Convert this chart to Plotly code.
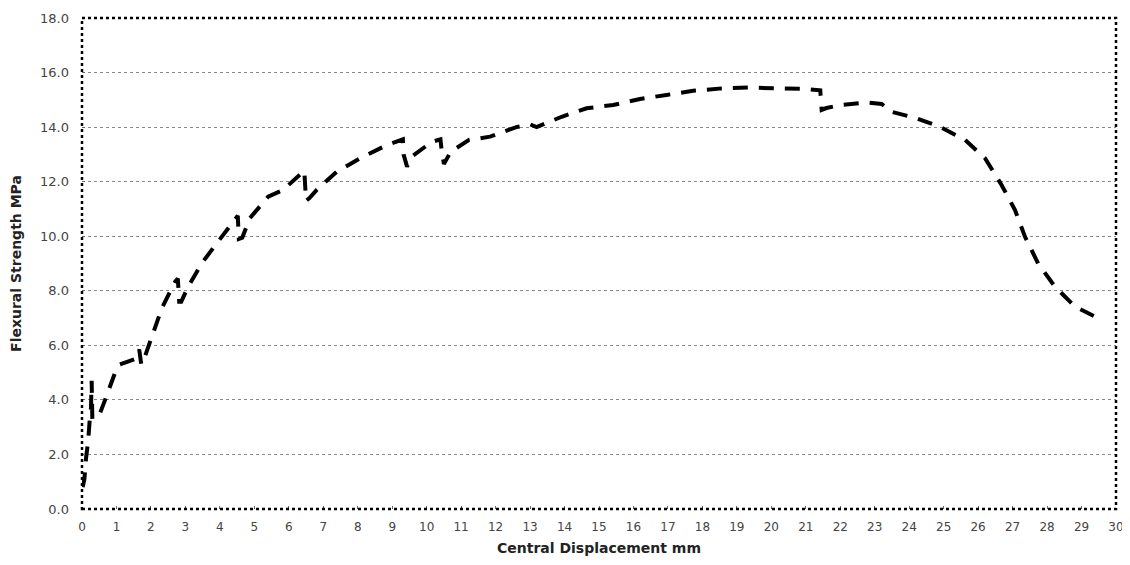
import plotly.graph_objects as go

displacement_mm = [0.02, 0.07, 0.12, 0.18, 0.22, 0.26, 0.28, 0.30, 0.42, 0.52, 0.67, 0.81, 0.96,
                   1.10, 1.30, 1.55, 1.66, 1.72, 1.80, 2.06, 2.32, 2.70, 2.78, 2.82, 2.88, 3.08,
                   3.47, 3.91, 4.44, 4.52, 4.55, 4.65, 4.87, 5.40, 5.83, 6.20, 6.45, 6.50, 6.60,
                   6.81, 7.39, 8.07, 8.84, 9.31, 9.33, 9.43, 9.60, 10.15, 10.40, 10.43, 10.50,
                   10.70, 11.23, 11.84, 12.60, 13.00, 13.19, 13.92, 14.64, 15.41, 16.19, 16.96,
                   17.73, 18.56, 19.38, 20.15, 20.98, 21.42, 21.46, 21.60, 22.00, 22.76, 23.20,
                   23.49, 24.22, 24.89, 25.62, 26.20, 26.68, 27.07, 27.36, 27.74, 28.23, 28.81,
                   29.39]
strength_mpa = [0.8, 1.1, 1.9, 2.5, 3.2, 3.7, 4.7, 3.3, 3.35, 3.5, 4.0, 4.5, 5.0,
                5.3, 5.4, 5.5, 5.85, 5.3, 5.5, 6.45, 7.37, 8.33, 8.45, 7.6, 7.6, 8.15,
                9.0, 9.74, 10.6, 10.75, 9.9, 9.95, 10.66, 11.45, 11.69, 12.1, 12.4, 11.3, 11.4,
                11.7, 12.36, 12.86, 13.34, 13.55, 13.0, 12.55, 12.95, 13.46, 13.55, 13.2, 12.65,
                13.1, 13.53, 13.65, 14.0, 14.1, 14.0, 14.38, 14.69, 14.81, 15.03, 15.18,
                15.33, 15.42, 15.45, 15.42, 15.40, 15.35, 14.63, 14.7, 14.81, 14.9, 14.85,
                14.56, 14.32, 14.01, 13.53, 12.86, 11.88, 10.96, 9.98, 9.0, 8.15, 7.42,
                7.05]

x_ticks = list(range(0, 31))
y_ticks = [0, 2, 4, 6, 8, 10, 12, 14, 16, 18]

fig = go.Figure()
fig.add_trace(go.Scatter(
    x=displacement_mm, y=strength_mpa, mode="lines",
    line=dict(color="black", width=4, dash="15px,11px"),
    showlegend=False,
))

font_main = "DejaVu Sans"
fig.update_layout(
    width=1130, height=565,
    margin=dict(l=74, r=22, t=10, b=64),
    plot_bgcolor="white", paper_bgcolor="white",
    font=dict(family=font_main, size=12, color="#333"),
    xaxis=dict(
        range=[0, 30], tickmode="array", tickvals=x_ticks,
        ticktext=[str(t) for t in x_ticks],
        showgrid=False, zeroline=False, showline=False,
        ticks="inside", ticklen=3, tickcolor="#666",
        tickfont=dict(size=12, color="#444"),
        ticklabelstandoff=9, automargin=False,
        title=dict(text="<b>Central Displacement mm</b>",
                   font=dict(size=14, color="#222"), standoff=10),
    ),
    yaxis=dict(
        range=[0, 18], tickmode="array", tickvals=y_ticks,
        ticktext=[f"{v:.1f}" for v in y_ticks],
        showgrid=True, gridcolor="#888", griddash="dot", gridwidth=1,
        zeroline=False, showline=False,
        ticks="inside", ticklen=3, tickcolor="#666",
        tickfont=dict(size=13, color="#444"),
        ticklabelstandoff=12, automargin=False,
        title=dict(text="<b>Flexural Strength MPa</b>",
                   font=dict(size=14, color="#222"), standoff=18),
    ),
    shapes=[dict(type="rect", xref="paper", yref="paper", x0=0, x1=1, y0=0, y1=1,
                 line=dict(color="black", width=2.5, dash="dot"), layer="above")],
)

fig.write_html("out.html")
